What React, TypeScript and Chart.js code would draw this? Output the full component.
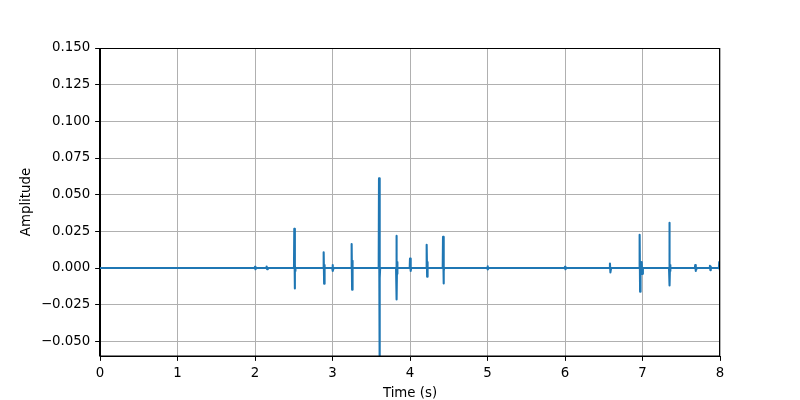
import React, { useEffect, useRef } from "react";
import { Chart, registerables } from "chart.js";

Chart.register(...registerables);

// Recording spans 0..8 s; baseline sits at zero between bursts.
const timeRange = [0, 8];
// Burst events (time in seconds), with their positive peak and negative trough.
const eventTimes = [2.0, 2.15, 2.507, 2.886, 3.0, 3.247, 3.6, 3.824, 4.0, 4.215, 4.426, 5.0, 6.0, 6.58, 6.963, 6.99, 7.346, 7.68, 7.87, 7.99];
const eventPeaks = [0.0008, 0.001, 0.0267, 0.0107, 0.002, 0.0164, 0.0612, 0.0219, 0.0064, 0.0158, 0.0212, 0.0012, 0.0008, 0.003, 0.0226, 0.004, 0.0308, 0.002, 0.0015, 0.004];
const eventTroughs = [-0.0008, -0.0008, -0.0139, -0.0107, -0.002, -0.0148, -0.075, -0.0215, -0.002, -0.006, -0.0105, -0.001, -0.0008, -0.003, -0.0162, -0.004, -0.0119, -0.002, -0.0015, -0.001];
// Smaller ringing right around the baseline after each event.
const eventRing = [0, 0, 0.002, 0.002, 0, 0.005, 0.007, 0.004, 0.002, 0.004, 0.002, 0, 0, 0, 0.004, 0, 0.002, 0.001, 0.001, 0];

const xTicks = [0, 1, 2, 3, 4, 5, 6, 7, 8];
const yTicks = [-0.05, -0.025, 0, 0.025, 0.05, 0.075, 0.1, 0.125, 0.15];
const yRange = [-0.06, 0.15];

const fmtY = (v: number) => {
  const s = Math.abs(v).toFixed(3);
  return v < -1e-9 ? "\u2212" + s : s;
};

function buildPoints() {
  const pts: { x: number; y: number }[] = [{ x: timeRange[0], y: 0 }];
  eventTimes.forEach((t, i) => {
    pts.push({ x: t - 0.004, y: 0 });
    pts.push({ x: t, y: eventPeaks[i] });
    pts.push({ x: t + 0.006, y: eventTroughs[i] });
    if (eventRing[i] > 0) {
      pts.push({ x: t + 0.009, y: eventRing[i] });
      pts.push({ x: t + 0.012, y: -eventRing[i] });
    }
    pts.push({ x: t + 0.015, y: 0 });
  });
  pts.push({ x: timeRange[1], y: 0 });
  return pts;
}

const frame = {
  id: "frame",
  afterDatasetsDraw(chart: any) {
    const { ctx, chartArea } = chart;
    ctx.save();
    ctx.strokeStyle = "#000";
    ctx.lineWidth = 1;
    ctx.strokeRect(
      Math.round(chartArea.left) - 0.5,
      Math.round(chartArea.top) + 0.5,
      Math.round(chartArea.right - chartArea.left),
      Math.round(chartArea.bottom - chartArea.top) - 0.5
    );
    ctx.restore();
  },
};

export default function App() {
  const ref = useRef<HTMLCanvasElement | null>(null);
  useEffect(() => {
    if (!ref.current) return;
    const font = { family: "DejaVu Sans", size: 13.33 };
    const chart = new Chart(ref.current, {
      type: "line",
      data: {
        datasets: [
          {
            data: buildPoints(),
            borderColor: "#1f77b4",
            borderWidth: 2.08,
            pointRadius: 0,
            tension: 0,
            fill: false,
            clip: 0,
            borderJoinStyle: "round",
          },
        ],
      },
      options: {
        animation: false,
        responsive: false,
        maintainAspectRatio: false,
        events: [],
        layout: { padding: { left: 0, top: 48, right: 80, bottom: 0 } },
        plugins: { legend: { display: false }, tooltip: { enabled: false } },
        scales: {
          x: {
            type: "linear",
            min: timeRange[0],
            max: timeRange[1],
            afterFit: (s: any) => { s.height = 44; },
            afterBuildTicks: (s: any) => { s.ticks = xTicks.map((v) => ({ value: v })); },
            ticks: { font, color: "#000", padding: 5, maxRotation: 0, callback: (v: any) => String(v) },
            grid: { color: "#b0b0b0", lineWidth: 1, tickColor: "#000", tickLength: 4.86 },
            border: { color: "#000", width: 1 },
            title: { display: true, text: "Time (s)", font, color: "#000", padding: { top: 0, bottom: -2 } },
          },
          y: {
            type: "linear",
            min: yRange[0],
            max: yRange[1],
            afterFit: (s: any) => { s.width = 100; },
            afterBuildTicks: (s: any) => { s.ticks = yTicks.map((v) => ({ value: v })); },
            ticks: { font, color: "#000", padding: 4.86, callback: (v: any) => fmtY(Number(v)) },
            grid: { color: "#b0b0b0", lineWidth: 1, tickColor: "#000", tickLength: 4.86 },
            border: { color: "#000", width: 1 },
            title: { display: true, text: "Amplitude", font, color: "#000", padding: { top: 19, bottom: 0 } },
          },
        },
      },
      plugins: [frame],
    } as any);
    return () => chart.destroy();
  }, []);
  return (
    <div style={{ position: "fixed", left: 0, top: 0, width: 800, height: 400, background: "#fff" }}>
      <canvas ref={ref} width={800} height={400} style={{ width: 800, height: 400 }} />
    </div>
  );
}
